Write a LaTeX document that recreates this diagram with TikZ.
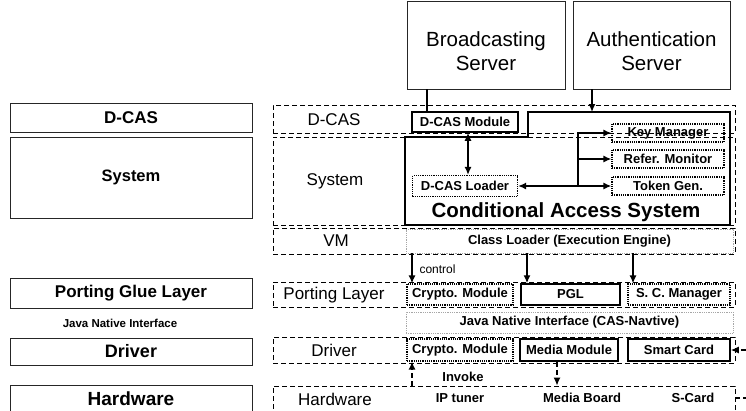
\documentclass[tikz,border=0pt]{standalone}
\usepackage{fontspec}
\setmainfont{Liberation Sans}
\usetikzlibrary{arrows.meta,positioning}

\tikzset{
  leftbox/.style={draw=black!85, line width=0.8pt, minimum width=242, minimum height=#1,
    inner sep=0, font=\fontsize{17}{19}\selectfont\bfseries},
  rowbox/.style={draw, line width=0.8pt, dash pattern=on 5pt off 3pt,
    minimum width=462, minimum height=#1, inner sep=0},
  rowlab/.style={font=\fontsize{17}{19}\selectfont},
  srvbox/.style={draw=black!85, line width=0.8pt, minimum width=158, minimum height=88, inner sep=0},
  srvtxt/.style={align=center, font=\fontsize{20.5}{24}\selectfont},
  thickmod/.style={draw, line width=1.5pt, minimum width=#1, minimum height=19,
    inner sep=0, font=\fontsize{13}{15}\selectfont\bfseries},
  dotmod/.style={draw, line width=1.2pt, densely dotted, minimum width=#1, minimum height=19,
    inner sep=0, font=\fontsize{13}{15}\selectfont\bfseries},
  greymod/.style={draw=black!35, line width=0.8pt, densely dotted, minimum width=327,
    minimum height=#1, inner sep=0, font=\fontsize{13}{15}\selectfont\bfseries},
  smalltxt/.style={font=\fontsize{13}{15}\selectfont\bfseries},
  arr/.style={line width=1.4pt, -{Latex[length=8pt,width=7pt]}},
  biarr/.style={line width=1.4pt, {Latex[length=8pt,width=7pt]}-{Latex[length=8pt,width=7pt]}},
  darr/.style={line width=1.4pt, dash pattern=on 5pt off 3pt, -{Latex[length=8pt,width=7pt]}},
  dline/.style={line width=1.4pt, dash pattern=on 5pt off 3pt}
}

\begin{document}
\begin{tikzpicture}[x=1pt, y=-1pt]
  \useasboundingbox (0,0) rectangle (746,410);
  \clip (0,0) rectangle (746,410);

  % left column
  \node[leftbox=29] (lDcas) at (131,117.5) {D-CAS};
  \node[leftbox=81, font=\fontsize{16.5}{18}\selectfont\bfseries] (lSys) at (131,177.5) {System};
  \node[leftbox=30] (lPgl) at (131,293) {Porting Glue Layer};
  \node[font=\fontsize{11.5}{13}\selectfont\bfseries] (lJni) at (120,323) {Java Native Interface};
  \node[leftbox=27, font=\fontsize{18}{20}\selectfont\bfseries] (lDrv) at (131,351.5) {Driver};
  \node[leftbox=27, font=\fontsize{19}{21}\selectfont\bfseries] (lHw) at (131,398.5) {Hardware};

  % servers
  \node[srvbox] (bcast) at (486,45) {};
  \node[srvtxt] (bcastTxt) at ([yshift=-6]bcast.center) {Broadcasting\\Server};
  \node[srvbox, minimum width=157] (auth) at (651.5,45) {};
  \node[srvtxt] (authTxt) at ([yshift=-6]auth.center) {Authentication\\Server};

  % layer rows
  \node[rowbox=28] (rDcas) at (504,119) {};
  \node[rowbox=88] (rSys) at (504,181) {};
  \node[rowbox=26] (rVm) at (504,241) {};
  \node[rowbox=25] (rPort) at (504,294.5) {};
  \node[rowbox=26] (rDrv) at (504,350) {};
  \node[rowbox=26] (rHw) at (504,399) {};

  \node[rowlab] (tDcas) at (334,120) {D-CAS};
  \node[rowlab] (tSys) at (335,181) {System};
  \node[rowlab] (tVm) at (336,241) {VM};
  \node[rowlab] (tPort) at (334,295) {Porting Layer};
  \node[rowlab] (tDrv) at (334,350) {Driver};
  \node[rowlab] (tHw) at (335,399) {Hardware};

  % conditional access system
  \draw[line width=1.3pt] (405,137) -| (528,112) -| (730,225) -| cycle;
  \node[font=\fontsize{20.5}{24}\selectfont\bfseries] (casTxt) at (566,212) {Conditional Access System};

  \node[thickmod=106, minimum height=20] (dmod) at (465,122) {D-CAS Module};
  \node[dotmod=105, minimum height=21] (dload) at (465,186) {D-CAS Loader};
  \node[dotmod=112, minimum height=18] (kman) at (668,133) {Key Manager};
  \node[dotmod=112, minimum height=18] (rmon) at (668,159) {Refer. Monitor};
  \node[dotmod=112, minimum height=18] (tgen) at (668,186) {Token Gen.};

  % vm and ports
  \node[greymod=24] (clsl) at (569.5,241) {Class Loader (Execution Engine)};
  \node[dotmod=106, minimum height=21] (pcry) at (460,294.5) {Crypto. Module};
  \node[thickmod=99, minimum height=21] (ppgl) at (570.5,294.5) {PGL};
  \node[dotmod=102, minimum height=21] (pscm) at (679,294.5) {S. C. Manager};
  \node[greymod=21] (jni) at (569.5,322.5) {Java Native Interface (CAS-Navtive)};
  \node[dotmod=106, minimum height=22] (dcry) at (460,350) {Crypto. Module};
  \node[thickmod=98, minimum height=22] (dmed) at (569,350) {Media Module};
  \node[thickmod=102, minimum height=22] (dsc) at (679,350) {Smart Card};

  \node[smalltxt] (hIp) at (460,398) {IP tuner};
  \node[smalltxt] (hMed) at (582,398) {Media Board};
  \node[smalltxt] (hSc) at (693,398) {S-Card};

  % connector positions
  \coordinate (bx) at (427,0);
  \coordinate (ax) at (592,0);
  \coordinate (castop) at (592,112);
  \coordinate (mx) at (468,0);
  \coordinate (bus) at (578,0);
  \coordinate (c1) at (412,0);
  \coordinate (c2) at (527,0);
  \coordinate (c3) at (633,0);
  \coordinate (c4) at (557,0);
  \coordinate (edgeA) at (746,350);
  \coordinate (edgeB) at (746,398);

  % connectors
  \draw[line width=1.4pt] (bcast.south -| bx) -- (dmod.north -| bx);
  \draw[arr] (auth.south -| ax) -- (castop);
  \draw[biarr] (dmod.south -| mx) -- (dload.north -| mx);
  \draw[biarr] (dload.east) -- (tgen.west);
  \draw[arr] (bus |- tgen.west) |- (kman.west);
  \draw[arr] (bus |- rmon.west) -- (rmon.west);

  \draw[arr] (clsl.south -| c1) -- (pcry.north -| c1);
  \draw[arr] (clsl.south -| c2) -- (ppgl.north -| c2);
  \draw[arr] (clsl.south -| c3) -- (pscm.north -| c3);
  \node[font=\fontsize{12}{14}\selectfont, anchor=west] (ctl) at (416,269) {control};

  \draw[darr] (rHw.north -| c1) -- (dcry.south -| c1);
  \draw[darr] (dmed.south -| c4) -- (rHw.north -| c4);
  \node[smalltxt] (inv) at (463,377) {Invoke};

  \draw[darr] (edgeA) -- (dsc.east);
  \draw[dline] (rHw.east |- edgeB) -- (edgeB);
\end{tikzpicture}
\end{document}
